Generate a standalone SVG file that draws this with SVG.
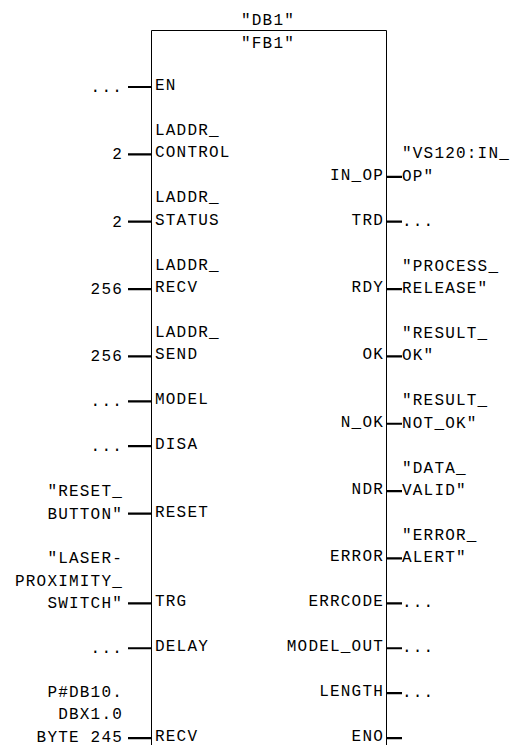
<svg xmlns="http://www.w3.org/2000/svg" width="512" height="745" viewBox="0 0 512 745">
<style>
text{font-family:"Liberation Mono","Courier New",monospace;font-size:16px;letter-spacing:1.2px;fill:#000}
.l{text-anchor:start}
.r{text-anchor:end}
.m{text-anchor:middle}
.box{fill:none;stroke:#000;stroke-width:1}
.stub{stroke:#000;stroke-width:2.2}
</style>
<rect width="512" height="745" fill="#fff"/>
<g id="fb1-block">
<text class="m" x="268" y="25">"DB1"</text>
<path class="box" d="M151.5,746 V30.5 H386.5 V746"/>
<text class="m" x="268" y="48">"FB1"</text>
<g id="inputs">
<text class="l" x="155" y="90">EN</text>
<text class="l" x="155" y="134.9">LADDR_</text><text class="l" x="155" y="157.35">CONTROL</text>
<text class="l" x="155" y="202.25">LADDR_</text><text class="l" x="155" y="224.7">STATUS</text>
<text class="l" x="155" y="269.6">LADDR_</text><text class="l" x="155" y="292.05">RECV</text>
<text class="l" x="155" y="336.95">LADDR_</text><text class="l" x="155" y="359.4">SEND</text>
<text class="l" x="155" y="404.3">MODEL</text>
<text class="l" x="155" y="449.2">DISA</text>
<text class="l" x="155" y="516.55">RESET</text>
<text class="l" x="155" y="606.35">TRG</text>
<text class="l" x="155" y="651.25">DELAY</text>
<text class="l" x="155" y="740.5">RECV</text>
</g>
<g id="outputs">
<text class="r" x="384" y="179.8">IN_OP</text>
<text class="r" x="384" y="224.7">TRD</text>
<text class="r" x="384" y="292.05">RDY</text>
<text class="r" x="384" y="359.4">OK</text>
<text class="r" x="384" y="426.75">N_OK</text>
<text class="r" x="384" y="494.1">NDR</text>
<text class="r" x="384" y="561.45">ERROR</text>
<text class="r" x="384" y="606.35">ERRCODE</text>
<text class="r" x="384" y="651.25">MODEL_OUT</text>
<text class="r" x="384" y="696.15">LENGTH</text>
<text class="r" x="384" y="740.5">ENO</text>
</g>
</g>
<g id="connectors">
<path class="stub" d="M128,87H151 M128,154.35H151 M128,221.7H151 M128,289.05H151 M128,356.4H151 M128,401.3H151 M128,446.2H151 M128,513.55H151 M128,603.35H151 M128,648.25H151 M128,738.05H151"/>
<path class="stub" d="M387,176.8H402 M387,221.7H402 M387,289.05H402 M387,356.4H402 M387,423.75H402 M387,491.1H402 M387,558.45H402 M387,603.35H402 M387,648.25H402 M387,693.15H402 M387,738.05H402"/>
</g>
<g id="input-values">
<text class="r" x="123" y="92">...</text>
<text class="r" x="123" y="159.35">2</text>
<text class="r" x="123" y="226.7">2</text>
<text class="r" x="123" y="294.05">256</text>
<text class="r" x="123" y="361.4">256</text>
<text class="r" x="123" y="406.3">...</text>
<text class="r" x="123" y="451.2">...</text>
<text class="r" x="123" y="496.1">"RESET_</text><text class="r" x="123" y="518.55">BUTTON"</text>
<text class="r" x="123" y="563.45">"LASER-</text><text class="r" x="123" y="585.9">PROXIMITY_</text><text class="r" x="123" y="608.35">SWITCH"</text>
<text class="r" x="123" y="653.25">...</text>
<text class="r" x="123" y="697">P#DB10.</text><text class="r" x="123" y="719.3">DBX1.0</text><text class="r" x="123" y="741.5">BYTE 245</text>
</g>
<g id="output-values">
<text class="l" x="402" y="158.35">"VS120:IN_</text><text class="l" x="402" y="180.8">OP"</text>
<text class="l" x="402" y="225.7">...</text>
<text class="l" x="402" y="270.6">"PROCESS_</text><text class="l" x="402" y="293.05">RELEASE"</text>
<text class="l" x="402" y="337.95">"RESULT_</text><text class="l" x="402" y="360.4">OK"</text>
<text class="l" x="402" y="405.3">"RESULT_</text><text class="l" x="402" y="427.75">NOT_OK"</text>
<text class="l" x="402" y="472.65">"DATA_</text><text class="l" x="402" y="495.1">VALID"</text>
<text class="l" x="402" y="540">"ERROR_</text><text class="l" x="402" y="562.45">ALERT"</text>
<text class="l" x="402" y="607.35">...</text>
<text class="l" x="402" y="652.25">...</text>
<text class="l" x="402" y="697.15">...</text>
</g>
</svg>
